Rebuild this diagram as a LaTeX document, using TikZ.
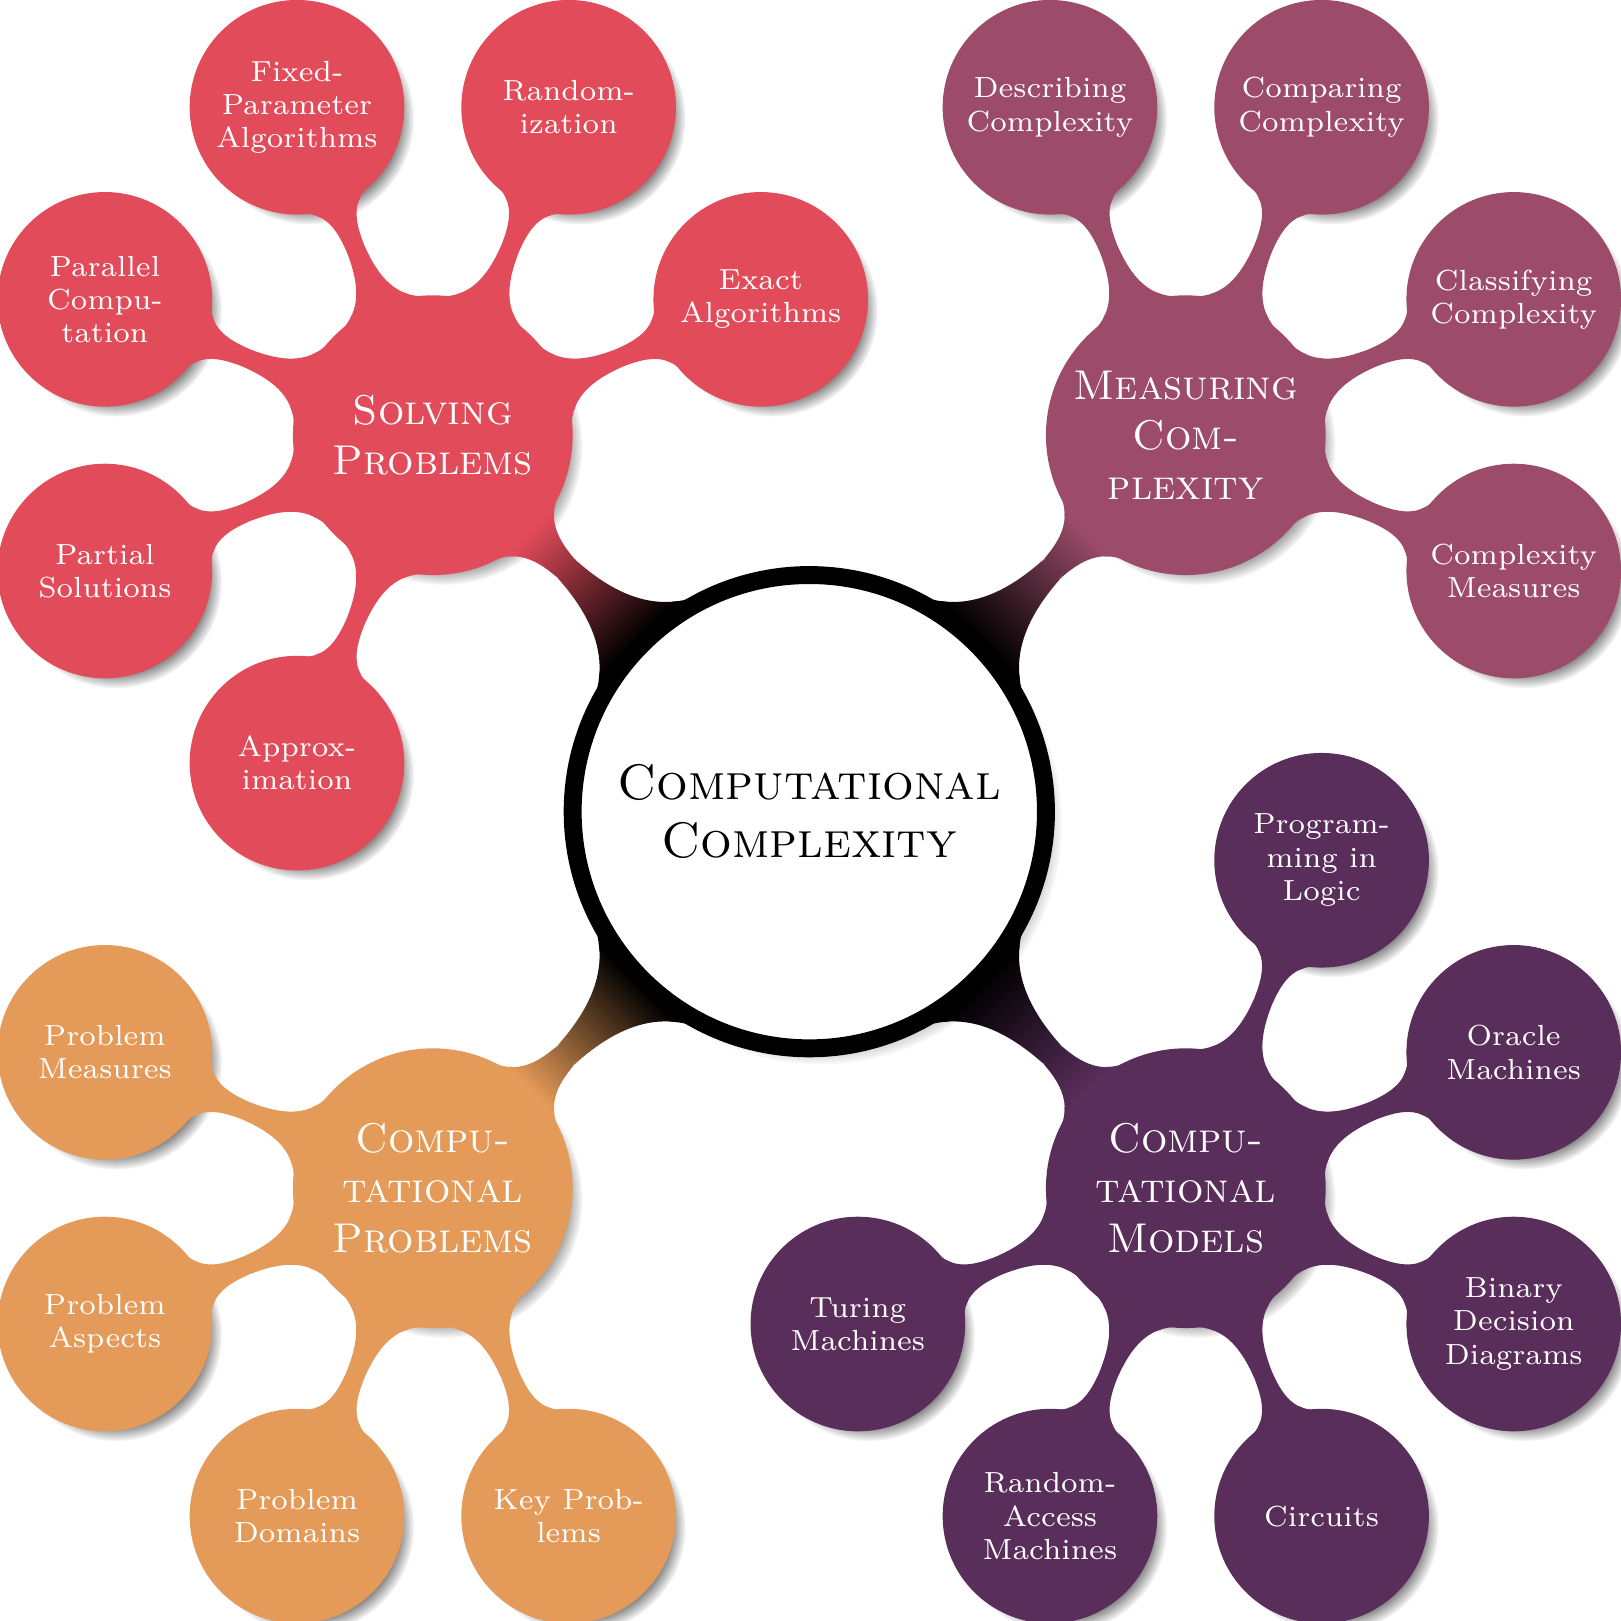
\documentclass[tikz,border=0pt]{standalone}
\usetikzlibrary{mindmap, shadows, calc}
\definecolor{solvered}{HTML}{E14B5A}
\definecolor{measurerose}{HTML}{9C4C69}
\definecolor{modelplum}{HTML}{5A2E5A}
\definecolor{problemorange}{HTML}{E49A58}
\pgfdeclarelayer{shade}
\pgfdeclarelayer{bars}
\pgfsetlayers{shade,bars,main}

\begin{document}
\begin{tikzpicture}[
    topic/.style={circle, text=white, align=center, inner sep=0pt, outer sep=0pt},
    rootbox/.style={topic, fill=white, draw=black, line width=1ex, outer sep=0.3ex,
      text=black, minimum size=4cm, font=\large\scshape},
    branchbox/.style={topic, fill=#1, draw=#1, minimum size=2.35cm, font=\scshape},
    leafbox/.style={topic, fill=#1, draw=#1, minimum size=1.8cm, font=\scriptsize},
    topicshadow/.style={circular drop shadow={shadow scale=1,
      shadow xshift=.6ex, shadow yshift=-.6ex}},
    link/.style 2 args={circle connection bar switch color=from (#1) to (#2)}]
  \useasboundingbox (-6.84,-6.84) rectangle (6.86,6.86);

  \node[rootbox] (cc) at (0,0) {Computational\\Complexity};

  \node[branchbox=problemorange] (problems) at (225:4.5) {Compu-\\tational\\Problems};
  \node[branchbox=modelplum] (models) at (315:4.5) {Compu-\\tational\\Models};
  \node[branchbox=measurerose] (measure) at (45:4.5) {Measuring\\Com-\\plexity};
  \node[branchbox=solvered] (solve) at (135:4.5) {Solving\\Problems};

  \node[leafbox=problemorange] (pmeasures) at ($(problems)+(157.5:3)$) {Problem\\Measures};
  \node[leafbox=problemorange] (paspects) at ($(problems)+(202.5:3)$) {Problem\\Aspects};
  \node[leafbox=problemorange] (pdomains) at ($(problems)+(247.5:3)$) {Problem\\Domains};
  \node[leafbox=problemorange] (keyprob) at ($(problems)+(292.5:3)$) {Key Prob-\\lems};

  \node[leafbox=modelplum] (turing) at ($(models)+(202.5:3)$) {Turing\\Machines};
  \node[leafbox=modelplum] (ram) at ($(models)+(247.5:3)$) {Random-\\Access\\Machines};
  \node[leafbox=modelplum] (circuits) at ($(models)+(292.5:3)$) {Circuits};
  \node[leafbox=modelplum] (bdd) at ($(models)+(337.5:3)$) {Binary\\Decision\\Diagrams};
  \node[leafbox=modelplum] (oracle) at ($(models)+(22.5:3)$) {Oracle\\Machines};
  \node[leafbox=modelplum] (logic) at ($(models)+(67.5:3)$) {Program-\\ming in\\Logic};

  \node[leafbox=measurerose] (cmeasures) at ($(measure)+(-22.5:3)$) {Complexity\\Measures};
  \node[leafbox=measurerose] (classify) at ($(measure)+(22.5:3)$) {Classifying\\Complexity};
  \node[leafbox=measurerose] (compare) at ($(measure)+(67.5:3)$) {Comparing\\Complexity};
  \node[leafbox=measurerose] (describe) at ($(measure)+(112.5:3)$) {Describing\\Complexity};

  \node[leafbox=solvered] (exact) at ($(solve)+(22.5:3)$) {Exact\\Algorithms};
  \node[leafbox=solvered] (random) at ($(solve)+(67.5:3)$) {Random-\\ization};
  \node[leafbox=solvered] (fpt) at ($(solve)+(112.5:3)$) {Fixed-\\Parameter\\Algorithms};
  \node[leafbox=solvered] (parallel) at ($(solve)+(157.5:3)$) {Parallel\\Compu-\\tation};
  \node[leafbox=solvered] (partial) at ($(solve)+(202.5:3)$) {Partial\\Solutions};
  \node[leafbox=solvered] (approx) at ($(solve)+(247.5:3)$) {Approx-\\imation};

  \begin{pgfonlayer}{shade}
    \foreach \topic in {cc,problems,models,measure,solve,pmeasures,paspects,pdomains,
        keyprob,turing,ram,circuits,bdd,oracle,logic,cmeasures,classify,compare,
        describe,exact,random,fpt,parallel,partial,approx}
      \path[topicshadow] let \p1=($(\topic.east)-(\topic.center)$) in
        (\topic.center) circle (\x1);
  \end{pgfonlayer}

  \begin{pgfonlayer}{bars}
    \path (cc) to[link={black}{problemorange}] (problems);
    \path (cc) to[link={black}{modelplum}] (models);
    \path (cc) to[link={black}{measurerose}] (measure);
    \path (cc) to[link={black}{solvered}] (solve);

    \path (problems) to[link={problemorange}{problemorange}] (pmeasures);
    \path (problems) to[link={problemorange}{problemorange}] (paspects);
    \path (problems) to[link={problemorange}{problemorange}] (pdomains);
    \path (problems) to[link={problemorange}{problemorange}] (keyprob);

    \path (models) to[link={modelplum}{modelplum}] (turing);
    \path (models) to[link={modelplum}{modelplum}] (ram);
    \path (models) to[link={modelplum}{modelplum}] (circuits);
    \path (models) to[link={modelplum}{modelplum}] (bdd);
    \path (models) to[link={modelplum}{modelplum}] (oracle);
    \path (models) to[link={modelplum}{modelplum}] (logic);

    \path (measure) to[link={measurerose}{measurerose}] (cmeasures);
    \path (measure) to[link={measurerose}{measurerose}] (classify);
    \path (measure) to[link={measurerose}{measurerose}] (compare);
    \path (measure) to[link={measurerose}{measurerose}] (describe);

    \path (solve) to[link={solvered}{solvered}] (exact);
    \path (solve) to[link={solvered}{solvered}] (random);
    \path (solve) to[link={solvered}{solvered}] (fpt);
    \path (solve) to[link={solvered}{solvered}] (parallel);
    \path (solve) to[link={solvered}{solvered}] (partial);
    \path (solve) to[link={solvered}{solvered}] (approx);
  \end{pgfonlayer}
\end{tikzpicture}
\end{document}
